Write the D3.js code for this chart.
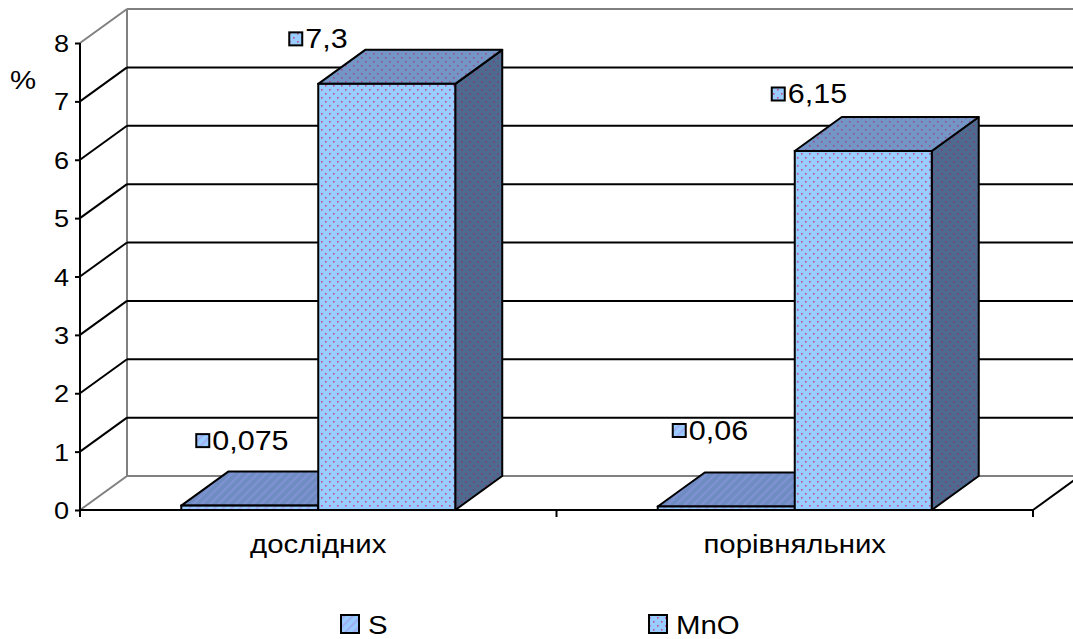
<!DOCTYPE html>
<html>
<head>
<meta charset="utf-8">
<script src="https://cdn.jsdelivr.net/npm/d3@7"></script>
<style>
  html, body { margin: 0; padding: 0; background: #fff; }
  svg { display: block; font-family: "Liberation Sans", Arial, sans-serif; }
</style>
</head>
<body>
<svg id="chart" width="1073" height="639"></svg>
<script>
// ---- data ----
const categories = ["дослідних", "порівняльних"];
const seriesNames = ["S", "MnO"];
const sValues = [0.075, 0.06];
const mnoValues = [7.3, 6.15];
const yTicks = [0, 1, 2, 3, 4, 5, 6, 7, 8];
const yUnit = "%";

// ---- layout ----
const W = 1073, H = 639;
const DX = 47, DY = -34;            // oblique depth offset of the 3D box
const plotLeft = 80, plotRight = 1033, plotBottom = 510, plotTop = 43;
const TEXT_SX = 1.13;               // horizontal stretch applied to all text

// per-bar nudges for the value labels (relative to front-left / back-top corner)
const labelNudge = {
  S:   [[15, -31], [15, -42]],
  MnO: [[-29, -11], [-23, -23]]
};

const svg = d3.select("#chart");
svg.append("rect").attr("width", W).attr("height", H).attr("fill", "#fff");

// place a text element at (x, y) with a horizontal stretch
function placeText(sel, x, y) {
  sel.attr("x", 0).attr("y", 0)
    .attr("transform", `translate(${x},${y}) scale(${TEXT_SX},1)`);
  return sel;
}

const y = d3.scaleLinear().domain([0, 8]).range([plotBottom, plotTop]);
const x0 = d3.scaleBand().domain(categories).range([plotLeft, plotRight])
  .paddingInner(0.425).paddingOuter(0.2125);
const x1 = d3.scaleBand().domain(seriesNames).range([0, x0.bandwidth()]).padding(0);

const seriesData = seriesNames.map((name, j) => ({
  name,
  values: j === 0 ? sValues : mnoValues
}));

// ---- fill patterns ----
const defs = svg.append("defs");
function dotPattern(id, bg, dot) {
  const p = defs.append("pattern").attr("id", id).attr("patternUnits", "userSpaceOnUse")
    .attr("width", 8).attr("height", 8);
  p.append("rect").attr("width", 8).attr("height", 8).attr("fill", bg);
  p.append("rect").attr("x", 1).attr("y", 1).attr("width", 1.6).attr("height", 1.6).attr("fill", dot);
  p.append("rect").attr("x", 5).attr("y", 5).attr("width", 1.6).attr("height", 1.6).attr("fill", dot);
}
function stripePattern(id, bg, stripe) {
  const p = defs.append("pattern").attr("id", id).attr("patternUnits", "userSpaceOnUse")
    .attr("width", 6).attr("height", 6).attr("patternTransform", "rotate(45)");
  p.append("rect").attr("width", 6).attr("height", 6).attr("fill", bg);
  p.append("rect").attr("x", 0).attr("y", 0).attr("width", 2.2).attr("height", 6).attr("fill", stripe);
}
stripePattern("sFront", "#99CCFF", "#A0AEF2");
stripePattern("sTop", "#6E8BC2", "#7F93D2");
stripePattern("sSide", "#50698F", "#5E74A6");
dotPattern("mFront", "#99CCFF", "#C0508C");
dotPattern("mTop", "#7396C6", "#9A4E8A");
dotPattern("mSide", "#4F6A8F", "#7E3E74");
const fills = {
  S: { front: "url(#sFront)", top: "url(#sTop)", side: "url(#sSide)" },
  MnO: { front: "url(#mFront)", top: "url(#mTop)", side: "url(#mSide)" }
};

// ---- walls and gridlines ----
const walls = svg.append("g");
const line = (x1_, y1_, x2_, y2_, color) => walls.append("line")
  .attr("x1", x1_).attr("y1", y1_).attr("x2", x2_).attr("y2", y2_)
  .attr("stroke", color).attr("stroke-width", 2);

const grey = "#808080";
line(plotLeft + DX, y(0) + DY, plotLeft + DX, y(8) + DY, grey);
line(plotLeft + DX, y(0) + DY, plotRight + DX, y(0) + DY, grey);
line(plotLeft, y(0), plotLeft + DX, y(0) + DY, grey);
line(plotRight, y(0), plotRight + DX, y(0) + DY, "#000");
yTicks.filter(v => v > 0).forEach(v => {
  const c = v === 8 ? grey : "#000";
  line(plotLeft, y(v), plotLeft + DX, y(v) + DY, c);
  line(plotLeft + DX, y(v) + DY, W + 10, y(v) + DY, c);
});

// ---- bars ----
const bars = svg.append("g");
categories.forEach((cat, i) => {
  seriesData.forEach(s => {
    const v = s.values[i];
    const xl = x0(cat) + x1(s.name), xr = xl + x1.bandwidth();
    const yt = y(v), yb = y(0);
    const f = fills[s.name];
    const pts = a => a.map(p => p.join(",")).join(" ");
    bars.append("polygon")
      .attr("points", pts([[xr, yt], [xr + DX, yt + DY], [xr + DX, yb + DY], [xr, yb]]))
      .attr("fill", f.side).attr("stroke", "#000").attr("stroke-width", 2).attr("stroke-linejoin", "round");
    bars.append("polygon")
      .attr("points", pts([[xl, yt], [xr, yt], [xr + DX, yt + DY], [xl + DX, yt + DY]]))
      .attr("fill", f.top).attr("stroke", "#000").attr("stroke-width", 2).attr("stroke-linejoin", "round");
    bars.append("rect")
      .attr("x", xl).attr("y", yt).attr("width", xr - xl).attr("height", yb - yt)
      .attr("fill", f.front).attr("stroke", "#000").attr("stroke-width", 2);
  });
});

// ---- axes ----
const yAxis = d3.axisLeft(y).tickValues(yTicks).tickSize(5).tickPadding(6)
  .tickFormat(d => String(d));
const gy = svg.append("g").attr("transform", `translate(${plotLeft},0)`).call(yAxis);
gy.select(".domain").remove();
gy.append("line").attr("x1", 0).attr("x2", 0).attr("y1", plotTop).attr("y2", plotBottom + 6)
  .attr("stroke", "#000").attr("stroke-width", 2);
gy.selectAll(".tick line").attr("stroke", "#000").attr("stroke-width", 2);
gy.selectAll(".tick text").attr("font-size", 24).attr("fill", "#000")
  .attr("font-family", "Liberation Sans, Arial, sans-serif")
  .attr("dy", null)
  .each(function () { placeText(d3.select(this), -11, 8.5); });

const xEdge = d3.scaleLinear().domain([0, categories.length]).range([plotLeft, plotRight]);
const gx = svg.append("g");
gx.append("line").attr("x1", plotLeft).attr("x2", plotRight).attr("y1", plotBottom).attr("y2", plotBottom)
  .attr("stroke", "#000").attr("stroke-width", 2);
d3.range(categories.length + 1).forEach(k => {
  gx.append("line").attr("x1", xEdge(k)).attr("x2", xEdge(k))
    .attr("y1", plotBottom).attr("y2", plotBottom + 7).attr("stroke", "#000").attr("stroke-width", 2);
});
categories.forEach(c => {
  placeText(gx.append("text"), x0(c) + x0.bandwidth() / 2, 553)
    .attr("text-anchor", "middle").attr("font-size", 26).attr("fill", "#000").text(c);
});

placeText(svg.append("text"), 10, 89).attr("font-size", 26).attr("fill", "#000").text(yUnit);

// ---- value labels ----
const fmt = v => String(v).replace(".", ",");
const labels = svg.append("g");
categories.forEach((cat, i) => {
  seriesData.forEach(s => {
    const v = s.values[i];
    const xl = x0(cat) + x1(s.name);
    const [nx, ny] = labelNudge[s.name][i];
    const mx = xl + nx, my = y(v) + DY + ny;
    labels.append("rect").attr("x", mx).attr("y", my - 6.5).attr("width", 13).attr("height", 13)
      .attr("fill", fills[s.name].front).attr("stroke", "#000").attr("stroke-width", 2);
    placeText(labels.append("text"), mx + 16, my + 9.5)
      .attr("font-size", 27).attr("fill", "#000").text(fmt(v));
  });
});

// ---- legend ----
const legendX = [341, 649];
const legend = svg.append("g");
seriesNames.forEach((name, j) => {
  legend.append("rect").attr("x", legendX[j]).attr("y", 615).attr("width", 18).attr("height", 18)
    .attr("fill", fills[name].front).attr("stroke", "#000").attr("stroke-width", 2);
  placeText(legend.append("text"), legendX[j] + 27, 634)
    .attr("font-size", 26).attr("fill", "#000").text(name);
});
</script>
</body>
</html>
